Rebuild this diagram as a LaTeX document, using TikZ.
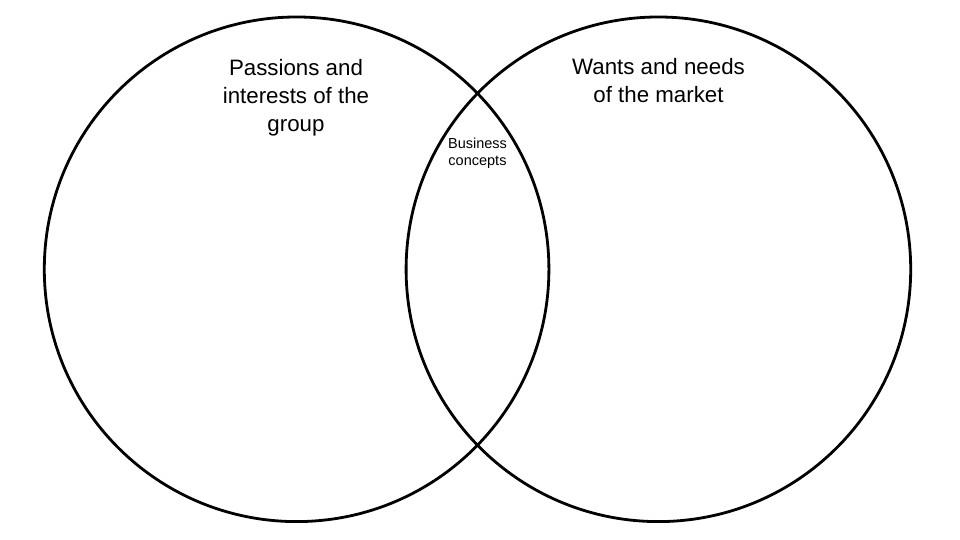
\documentclass[tikz,border=0pt]{standalone}
\usepackage{fontspec}
\setmainfont{Liberation Sans}
\begin{document}
\begin{tikzpicture}[x=1pt,y=1pt,
  venn/.style={draw=black, line width=2.8pt, circle, minimum size=504.6pt, inner sep=0pt},
  bigtext/.style={align=center, inner sep=0pt, anchor=north, font=\fontsize{22.3}{28}\selectfont},
  smalltext/.style={align=center, inner sep=0pt, anchor=north, font=\fontsize{14.5}{16.5}\selectfont}]
\useasboundingbox (0,0) rectangle (960,540);
\node[venn] (L) at (296.6,270.7) {};
\node[venn] (R) at (658.4,270.7) {};
\node[bigtext] (pas) at (296,480.5) {Passions and\\interests of the\\group};
\node[bigtext] (want) at (658.5,482.2) {Wants and needs\\of the market};
\node[smalltext] (biz) at (477.5,402) {Business\\concepts};
\end{tikzpicture}
\end{document}
